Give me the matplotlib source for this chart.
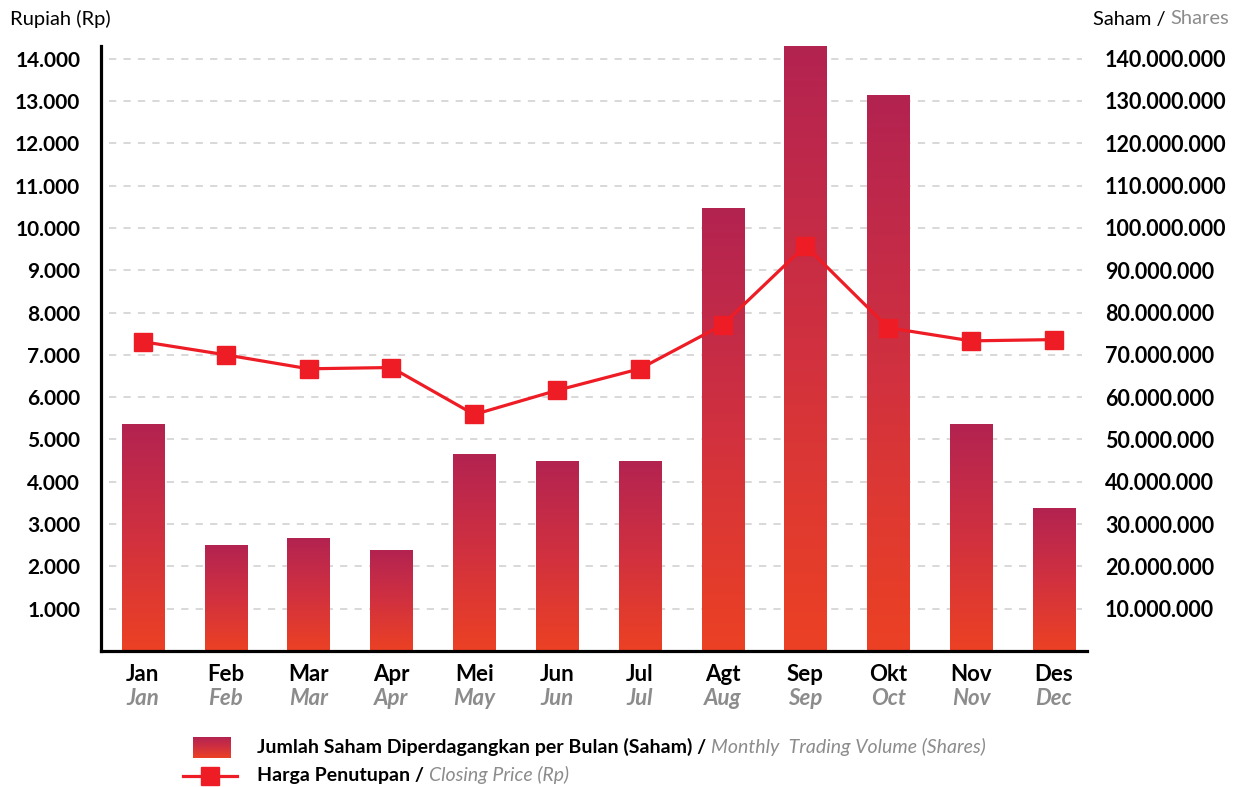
import numpy as np
import matplotlib.pyplot as plt
from matplotlib.colors import LinearSegmentedColormap
from matplotlib.lines import Line2D

plt.rcParams["font.family"] = ["Lato", "DejaVu Sans"]

MONTHS_ID = ["Jan", "Feb", "Mar", "Apr", "Mei", "Jun", "Jul", "Agt", "Sep", "Okt", "Nov", "Des"]
MONTHS_EN = ["Jan", "Feb", "Mar", "Apr", "May", "Jun", "Jul", "Aug", "Sep", "Oct", "Nov", "Dec"]
# monthly trading volume (shares)
volume = [53.5e6, 25.0e6, 26.7e6, 23.8e6, 46.5e6, 44.8e6, 44.8e6, 104.5e6, 142.9e6, 131.4e6, 53.5e6, 33.7e6]
# closing price (Rp)
price = [7310, 7000, 6670, 6700, 5590, 6160, 6670, 7710, 9580, 7640, 7330, 7360]

price_ticks = np.arange(1000, 15000, 1000)
vol_ticks = np.arange(10e6, 150e6, 10e6)

TOP_C = "#B32351"
BOT_C = "#EC4124"
LINE_C = "#EE1C25"
GRAY = "#8C8C8C"
cmap = LinearSegmentedColormap.from_list("bar", [BOT_C, "#D1313F", TOP_C])


def dots(v):
    return f"{int(round(v)):,}".replace(",", ".")


fig = plt.figure(figsize=(12.39, 7.87), dpi=100)
ax = fig.add_axes([0.0815, 0.1728, 0.7958, 0.7688])
ax2 = ax.twinx()

x = np.arange(len(MONTHS_ID))

# gradient bars
bars = ax.bar(x, volume, width=0.51, color="none", edgecolor="none", zorder=2)
grad = np.linspace(0, 1, 256).reshape(-1, 1)
for b in bars:
    x0, w, h = b.get_x(), b.get_width(), b.get_height()
    ax.imshow(grad, cmap=cmap, origin="lower", aspect="auto",
              extent=[x0, x0 + w, 0, h], zorder=2, interpolation="bilinear")
ax.set_xlim(-0.507, 11.40)
ax.set_ylim(0, 143e6)
ax2.set_ylim(0, 14300)

# gridlines
for t in vol_ticks:
    ax.plot([-0.41, 11.34], [t, t], color="#D6D6D6", lw=1.3, dashes=(4, 4), zorder=1)

ax2.plot(x, price, color=LINE_C, lw=2.3, marker="s", markersize=12.5,
         markerfacecolor=LINE_C, markeredgecolor=LINE_C, zorder=3)

# axes styling
for s in ["top", "right"]:
    ax.spines[s].set_visible(False)
for s in ax2.spines.values():
    s.set_visible(False)
ax.spines["left"].set_linewidth(2.3)
ax.spines["bottom"].set_linewidth(2.3)

ax.yaxis.set_ticks_position("right")
ax.set_yticks(vol_ticks)
ax.set_yticklabels([dots(v) for v in vol_ticks], fontsize=15.5, fontweight="bold")
ax.tick_params(axis="y", length=0, pad=13)

ax2.yaxis.set_ticks_position("left")
ax2.set_yticks(price_ticks)
ax2.set_yticklabels([dots(v) for v in price_ticks], fontsize=15, fontweight="bold")
ax2.tick_params(axis="y", length=0, pad=15)

ax.set_xticks(x)
ax.set_xticklabels(MONTHS_ID, fontsize=16, fontweight="bold")
ax.tick_params(axis="x", length=0, pad=9)
for xi, m in zip(x, MONTHS_EN):
    ax.text(xi, -0.079, m, transform=ax.get_xaxis_transform(), ha="center", va="center",
            fontsize=16, fontweight="bold", fontstyle="italic", color=GRAY)

fig.text(10 / 1239, 1 - 19 / 787, "Rupiah (Rp)", fontsize=14.5, va="center", ha="left")

fig.canvas.draw()
r = fig.canvas.get_renderer()


def chain(parts, x0, y0, size):
    xp = x0
    for txt, kw in parts:
        t = fig.text(xp / 1239, 1 - y0 / 787, txt, fontsize=size, va="center", ha="left", **kw)
        xp += t.get_window_extent(r).width


chain([("Saham / ", dict(color="black")), ("Shares", dict(color=GRAY))], 1093, 19, 14.5)

chain([("Jumlah Saham Diperdagangkan per Bulan (Saham) / ", dict(fontweight="bold")),
       ("Monthly  Trading Volume (Shares)", dict(fontstyle="italic", color=GRAY))], 257, 747, 14)
chain([("Harga Penutupan / ", dict(fontweight="bold")),
       ("Closing Price (Rp)", dict(fontstyle="italic", color=GRAY))], 257, 775, 14)

# legend keys
lax = fig.add_axes([0, 0, 1, 1], zorder=-1)
lax.imshow(grad[::-1], cmap=cmap, origin="upper", aspect="auto", extent=[193, 231, 758, 737])
lax.add_line(Line2D([183, 237], [776, 776], color=LINE_C, lw=2.3))
lax.plot([210], [776], marker="s", markersize=12.5, color=LINE_C)
lax.set_xlim(0, 1239)
lax.set_ylim(787, 0)
lax.axis("off")

fig.savefig("out.png", dpi=100)
